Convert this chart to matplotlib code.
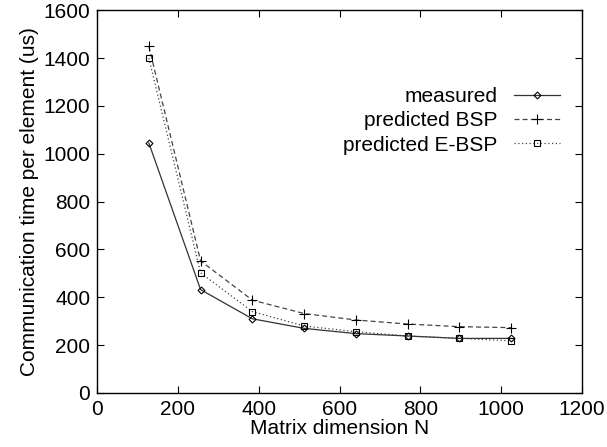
import matplotlib.pyplot as plt

# data
N = [128, 256, 384, 512, 640, 768, 896, 1024]
measured = [1045, 432, 310, 270, 248, 238, 228, 228]
predicted_bsp = [1450, 552, 388, 332, 305, 288, 277, 273]
predicted_ebsp = [1400, 502, 340, 280, 256, 238, 228, 218]

plt.rcParams['font.family'] = ['Liberation Sans', 'DejaVu Sans']

fig = plt.figure(figsize=(6.07, 4.47), dpi=100)
ax = fig.add_axes([0.16, 0.121, 0.799, 0.856])

ax.plot(N, measured, color='#333333', lw=0.9, ls='-', marker='D', ms=3.5,
        mfc='none', mec='black', mew=0.8, label='measured')
ax.plot(N, predicted_bsp, color='#444444', lw=0.9, ls=(0, (4, 2.5)), marker='+',
        ms=7, mec='black', mew=0.8, label='predicted BSP')
ax.plot(N, predicted_ebsp, color='#444444', lw=0.9, ls=(0, (1, 2)), marker='s',
        ms=4.5, mfc='none', mec='black', mew=0.8, label='predicted E-BSP')

ax.set_xlim(0, 1200)
ax.set_ylim(0, 1600)
ax.set_xticks(range(0, 1201, 200))
ax.set_yticks(range(0, 1601, 200))
ax.tick_params(direction='in', top=True, right=True, length=5, width=0.8,
               labelsize=15, pad=5)
for s in ax.spines.values():
    s.set_linewidth(1.0)

ax.set_xlabel('Matrix dimension N', fontsize=15, labelpad=0)
ax.set_ylabel('Communication time per element (us)', fontsize=15, labelpad=3)

ax.legend(loc='upper right', bbox_to_anchor=(0.985, 0.837), frameon=False,
          markerfirst=False, fontsize=15, handlelength=2.2, handletextpad=0.8,
          labelspacing=0.25, borderpad=0.2)

fig.savefig('out.png', dpi=100)
